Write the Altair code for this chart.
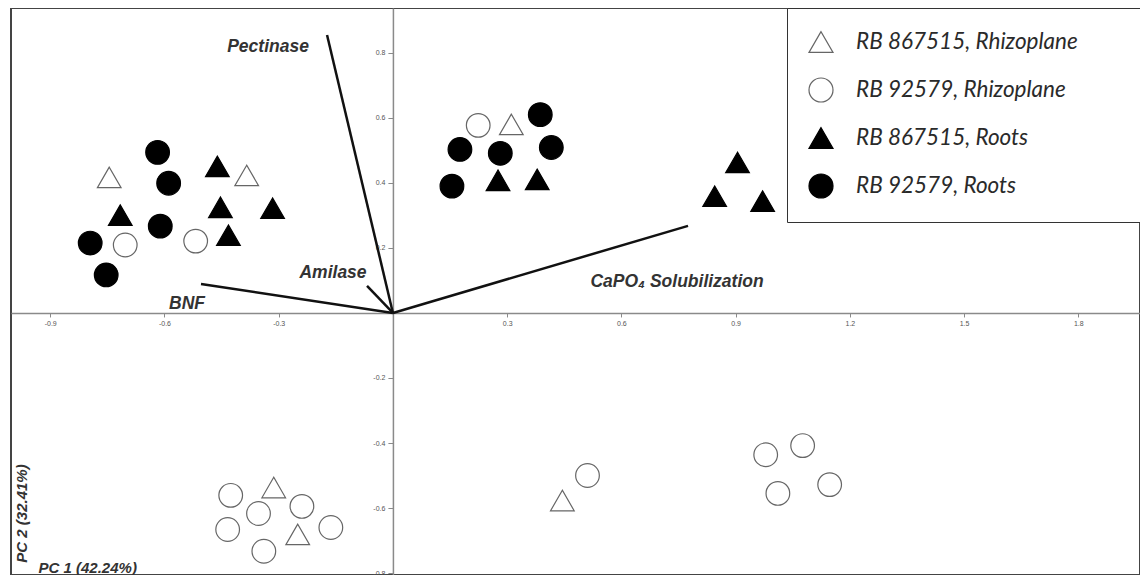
import altair as alt
import pandas as pd

# ---------------- data ----------------
groups = ["RB 867515, Rhizoplane", "RB 92579, Rhizoplane", "RB 867515, Roots", "RB 92579, Roots"]

# RB 867515, Rhizoplane (open triangles)
g1_x = [-0.745, -0.384, 0.311, -0.313, -0.250, 0.445]
g1_y = [0.417, 0.423, 0.580, -0.537, -0.681, -0.577]
# RB 92579, Rhizoplane (open circles)
g2_x = [-0.703, -0.518, 0.224, -0.426, -0.353, -0.239, -0.434, -0.163, -0.339, 0.511, 0.979, 1.076, 1.011, 1.147]
g2_y = [0.209, 0.221, 0.577, -0.561, -0.617, -0.595, -0.666, -0.660, -0.733, -0.500, -0.436, -0.408, -0.555, -0.528]
# RB 867515, Roots (filled triangles)
g3_x = [-0.461, -0.716, -0.453, -0.316, -0.432, 0.276, 0.379, 0.905, 0.845, 0.971]
g3_y = [0.451, 0.301, 0.325, 0.322, 0.239, 0.408, 0.411, 0.463, 0.359, 0.344]
# RB 92579, Roots (filled circles)
g4_x = [-0.618, -0.589, -0.611, -0.795, -0.753, 0.387, 0.176, 0.282, 0.416, 0.155]
g4_y = [0.494, 0.399, 0.267, 0.215, 0.117, 0.610, 0.503, 0.491, 0.509, 0.390]

# loading vectors
vec_names = ["Pectinase", "BNF", "Amilase", "CaPO\u2084 Solubilization"]
vec_x = [-0.173, -0.504, -0.068, 0.775]
vec_y = [0.855, 0.089, 0.083, 0.268]

x_ticks = [-0.9, -0.6, -0.3, 0.3, 0.6, 0.9, 1.2, 1.5, 1.8]
y_ticks = [-0.8, -0.6, -0.4, -0.2, 0.2, 0.4, 0.6, 0.8]
x_title = "PC 1 (42.24%)"
y_title = "PC 2 (32.41%)"

# ---------------- layout / style ----------------
W, H = 1129, 567
x_dom = [-1.003, 1.962]
y_dom = [-0.806, 0.938]
x_zero_px = W * (0 - x_dom[0]) / (x_dom[1] - x_dom[0])
y_zero_px = H * (y_dom[1] - 0) / (y_dom[1] - y_dom[0])

label_offsets = {  # pixel offsets of vector labels from the vector tip
    "Pectinase": (-59, 12),
    "BNF": (-14, 20),
    "Amilase": (-34, -13),
    "CaPO\u2084 Solubilization": (-11, 56),
}

rows = []
for g, xs, ys in zip(groups, [g1_x, g2_x, g3_x, g4_x], [g1_y, g2_y, g3_y, g4_y]):
    for a, b in zip(xs, ys):
        rows.append({"group": g, "x": a, "y": b})
pts = pd.DataFrame(rows)
vecs = pd.DataFrame({"name": vec_names, "x0": [0.0] * len(vec_x), "y0": [0.0] * len(vec_y),
                     "x": vec_x, "y": vec_y})

xscale = alt.Scale(domain=x_dom, nice=False, zero=False)
yscale = alt.Scale(domain=y_dom, nice=False, zero=False)

neg_expr = "datum.value < 0 ? '-' + format(abs(datum.value), '.1f') : format(datum.value, '.1f')"
common_axis = dict(grid=False, domainColor="#8a8a8a", domainWidth=1.5, tickColor="#8a8a8a",
                   labelFont="Liberation Sans", labelFontSize=7, labelColor="#555",
                   labelExpr=neg_expr, labelOverlap=False, labelFlush=False,
                   titleFont="Liberation Sans", titleFontWeight="bold", titleFontStyle="italic",
                   titleFontSize=15, titleColor="#333")

x_axis = alt.Axis(values=x_ticks, offset=y_zero_px - H, labelPadding=3, tickSize=4,
                  title=x_title, titleX=27, titleY=H - y_zero_px - 8, titleAlign="left",
                  titleBaseline="middle", **common_axis)
y_axis = alt.Axis(values=y_ticks, offset=-x_zero_px, labelPadding=3, tickSize=5,
                  title=y_title, titleX=10 - x_zero_px, titleY=505, titleAngle=270,
                  titleAlign="center", titleBaseline="middle", **common_axis)

pad = "\u00a0" * 13 + "\u200b"
legend = alt.Legend(orient="none", legendX=776, legendY=0, title=None, padding=21,
                    rowPadding=20, symbolSize=576, symbolStrokeWidth=1.2,
                    labelFont="Lato", labelFontStyle="italic", labelFontSize=22.5,
                    labelColor="#2a2a2a", labelOffset=22, strokeColor="#333", fillColor="white",
                    labelExpr="datum.label + '" + pad + "'", labelLimit=700)

rules = alt.Chart(vecs).mark_rule(color="#111", strokeWidth=2.5).encode(
    x=alt.X("x0:Q", scale=xscale, axis=x_axis),
    y=alt.Y("y0:Q", scale=yscale, axis=y_axis),
    x2="x:Q",
    y2="y:Q",
)

texts = []
for name in vec_names:
    dx, dy = label_offsets[name]
    t = alt.Chart(vecs).transform_filter(alt.datum.name == name).mark_text(
        font="Liberation Sans", fontWeight="bold", fontStyle="italic", fontSize=17.5,
        color="#333", dx=dx, dy=dy, align="center", baseline="middle"
    ).encode(
        x=alt.X("x:Q", scale=xscale, axis=x_axis),
        y=alt.Y("y:Q", scale=yscale, axis=y_axis),
        text="name:N",
    )
    texts.append(t)

points = alt.Chart(pts).mark_point(filled=True, opacity=1, size=560, strokeWidth=1.2).encode(
    x=alt.X("x:Q", scale=xscale, axis=x_axis),
    y=alt.Y("y:Q", scale=yscale, axis=y_axis),
    shape=alt.Shape("group:N", scale=alt.Scale(domain=groups,
                    range=["triangle-up", "circle", "triangle-up", "circle"]), legend=legend),
    fill=alt.Fill("group:N", scale=alt.Scale(domain=groups,
                  range=["white", "white", "black", "black"]), legend=legend),
    stroke=alt.Stroke("group:N", scale=alt.Scale(domain=groups,
                      range=["#666", "#666", "black", "black"]), legend=legend),
)

chart = alt.layer(rules, *texts, points).properties(
    width=W, height=H,
    padding={"left": 3, "top": 0, "right": 0, "bottom": 0},
    autosize=alt.AutoSizeParams(type="none"),
    background="white",
).configure_view(stroke="#444", strokeWidth=2)

chart.save("out.html", embed_options={"renderer": "svg", "actions": False})
